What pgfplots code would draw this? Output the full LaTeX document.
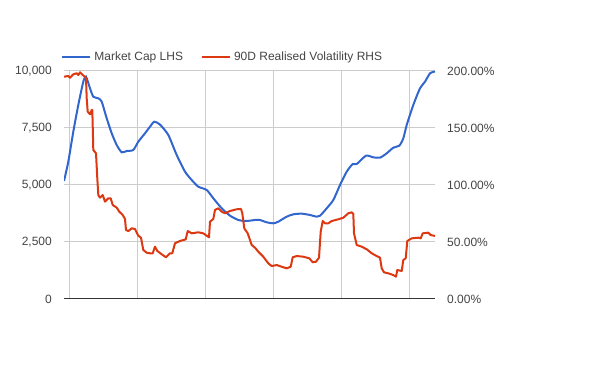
\documentclass[border=0pt]{standalone}
\usepackage{fontspec}
\setmainfont{Liberation Sans}
\usepackage{pgfplots}
\pgfplotsset{compat=1.18}
\definecolor{gblue}{HTML}{3366CC}
\definecolor{gred}{HTML}{DC3912}
\definecolor{gridc}{HTML}{CCCCCC}
\definecolor{txt}{HTML}{444444}
\definecolor{axc}{HTML}{333333}
\begin{document}
\begin{tikzpicture}
\useasboundingbox (0,0) rectangle (600bp,371bp);
\begin{axis}[
  at={(64bp,72bp)}, anchor=south west,
  scale only axis, width=371bp, height=228bp,
  xmin=64, xmax=435, ymin=0, ymax=10000,
  scaled y ticks=false, scaled x ticks=false,
  axis x line*=bottom, axis y line*=left,
  x axis line style={color=axc, line width=1bp, -},
  y axis line style={draw=none},
  xtick={69,137,205,273,341,409}, xticklabels={},
  ytick={0,2500,5000,7500,10000},
  yticklabels={0,{2,500},{5,000},{7,500},{10,000}},
  major tick length=0pt,
  grid=major, grid style={color=gridc, line width=1bp},
  yticklabel style={anchor=east, inner xsep=0pt, xshift=-12bp, font=\fontsize{12bp}{14bp}\selectfont, color=txt},
]
\addplot[color=gblue, line width=2bp, smooth, tension=0.4] coordinates {
(64,5175) (68.3,6022) (73.3,7338) (78.3,8509) (83.3,9531) (86,9750) (90,9241)
(93.3,8873) (98.3,8802) (101.7,8654) (106.7,7925) (111.7,7268) (116.7,6754)
(121.7,6434) (126.7,6491) (133.3,6535) (138.3,6900) (145,7268) (150,7557)
(154.3,7776) (160,7650) (168.3,7193) (176.7,6316) (185,5585) (191.7,5219)
(198.3,4926) (206.7,4781) (213.3,4418) (221.7,3977) (230,3655) (238.3,3465)
(245,3421) (250,3436) (255,3465) (260,3465) (266.7,3363) (273.3,3319)
(278.3,3392) (286.7,3611) (293.3,3714) (301.7,3743) (310,3684) (316.7,3611)
(320,3650) (326.7,3977) (333.3,4342) (340,5000) (346.7,5585) (352.7,5921)
(356.7,5921) (366,6287) (373.3,6213) (380,6199) (386.7,6389) (393.3,6637)
(399.3,6725) (403.3,7047) (406.7,7632) (413.3,8509) (420,9241) (425,9531)
(430,9898) (434.3,9971) (435,9980)
};
\end{axis}
\begin{axis}[
  at={(64bp,72bp)}, anchor=south west,
  scale only axis, width=371bp, height=228bp,
  xmin=64, xmax=435, ymin=0, ymax=200,
  scaled y ticks=false, scaled x ticks=false,
  axis x line=none, axis y line*=right,
  y axis line style={draw=none},
  ytick={0,50,100,150,200},
  yticklabels={0.00\%,50.00\%,100.00\%,150.00\%,200.00\%},
  major tick length=0pt,
  yticklabel style={anchor=west, inner xsep=0pt, xshift=12bp, font=\fontsize{12bp}{14bp}\selectfont, color=txt},
  legend columns=2,
  legend style={draw=none, fill=none, inner sep=0pt, at={(-0.009,1.0614)}, anchor=west,
    font=\fontsize{12bp}{14bp}\selectfont, text=txt,
    nodes={inner xsep=3.5bp, inner ysep=0pt},
    /tikz/every even column/.style={column sep=14bp}},
  legend cell align=left,
  legend image code/.code={\draw[#1] (0bp,0bp) -- (24bp,0bp); \path (0bp,0bp) -- (28bp,0bp);},
]
\addlegendimage{color=gblue, line width=2bp}
\addlegendentry{Market Cap LHS}
\addplot[color=gred, line width=2bp, line join=round] coordinates {
(64,195.0) (68.3,195.6) (70,194.1) (73.3,197.1) (76.7,198.0) (78.3,196.5)
(80,198.9) (82.7,196.5) (85,195.0) (86,193.6) (86.7,176.1) (87.7,164.3)
(90,162.0) (91.7,165.8) (92.3,165.8) (92.7,152.6) (93.3,130.7) (96,127.8)
(97.3,105.9) (98.3,91.2) (100,88.9) (102.7,91.2) (105,85.4) (108.3,88.3)
(110.7,88.3) (112.7,82.5) (116.7,80.1) (119.3,76.6) (122.7,73.7) (125,70.2)
(126,60.5) (128.3,59.6) (131.7,62.0) (135,61.4) (138.3,55.5) (141,53.8)
(143.3,43.0) (146.7,40.6) (150,40.1) (152.7,40.1) (155,45.9) (157.3,42.1)
(160,40.4) (161.7,39.2) (166,36.6) (170,40.1) (172.3,40.1) (175,48.9)
(180,50.9) (185.7,52.3) (187.7,59.6) (191.7,57.6) (198.3,58.5) (203.3,57.6)
(206.7,55.5) (209,54.1) (210,67.8) (213.3,70.2) (215,78.1) (218.3,79.6)
(221.7,76.6) (225,75.2) (230,77.2) (236.7,78.7) (241,79.0) (242.3,75.2)
(244.3,62.0) (247.7,57.6) (251.7,47.4) (255,45.0) (258.3,41.5) (263.3,37.1)
(268.3,31.3) (271.7,28.9) (276.7,29.8) (281.7,28.3) (286.7,26.9) (290.7,28.3)
(292.7,36.6) (296.7,37.7) (303.3,37.1) (309.3,35.7) (312.7,32.2) (316,32.7)
(319,36.2) (320.7,59.0) (322.7,68.4) (325,66.4) (328.3,66.4) (331.7,68.4)
(338.3,69.9) (343.3,71.3) (348.3,75.2) (351.7,76.0) (353.3,74.6) (354,57.6)
(356.7,47.4) (361.7,45.9) (366.7,43.6) (371.7,40.1) (376,38.0) (380,36.2)
(381.7,26.9) (384,23.4) (388.3,22.5) (393.3,21.0) (396,19.6) (397.3,25.4)
(401.7,24.6) (403.3,34.2) (405.7,35.7) (407.3,50.9) (411.7,53.2) (418.3,53.8)
(420.7,53.2) (422.7,57.6) (428.3,58.2) (430.7,56.1) (435,55.3)
};
\addlegendentry{90D Realised Volatility RHS}
\end{axis}
\end{tikzpicture}
\end{document}
